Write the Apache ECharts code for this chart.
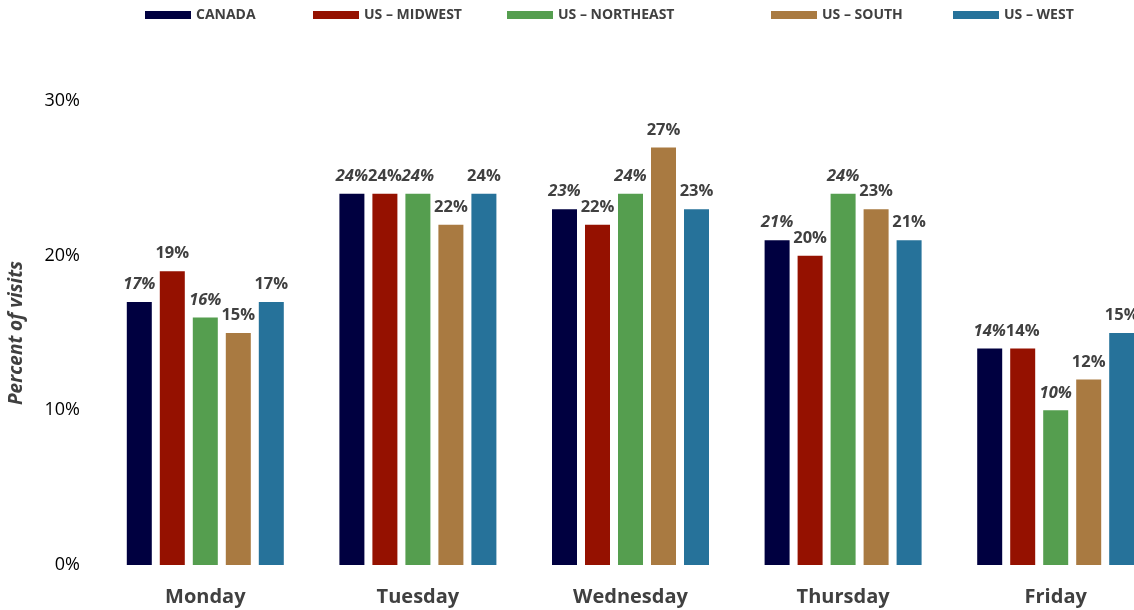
<!DOCTYPE html>
<html>
<head>
<meta charset="utf-8">
<script src="https://cdn.jsdelivr.net/npm/echarts@6/dist/echarts.min.js"></script>
<style>
  html, body { margin: 0; padding: 0; background: #fff; }
  #chart { width: 1134px; height: 610px; }
</style>
</head>
<body>
<div id="chart"></div>
<script>
// Weekday share of visits by region
const days = ['Monday', 'Tuesday', 'Wednesday', 'Thursday', 'Friday'];
const regions = ['CANADA', 'US \u2013 MIDWEST', 'US \u2013 NORTHEAST', 'US \u2013 SOUTH', 'US \u2013 WEST'];
const canada    = [17, 24, 23, 21, 14];
const midwest   = [19, 24, 22, 20, 14];
const northeast = [16, 24, 24, 24, 10];
const south     = [15, 22, 27, 23, 12];
const west      = [17, 24, 23, 21, 15];
const yTicks = [0, 10, 20, 30];

const seriesValues = [canada, midwest, northeast, south, west];
const colors = ['#000040', '#951100', '#559E4F', '#A97A41', '#26729A'];
const italicLabels = [true, false, true, false, false];
const legendLeft = [140, 308, 502, 766, 948];

const FONT = 'Open Sans';

const chart = echarts.init(document.getElementById('chart'));

const series = regions.map((name, i) => ({
  name: name,
  type: 'bar',
  data: seriesValues[i],
  barWidth: 25,
  barGap: '32%',
  itemStyle: { color: colors[i] },
  label: {
    show: true,
    position: 'top',
    distance: 9,
    formatter: '{c}%',
    fontFamily: FONT,
    fontWeight: 'bold',
    fontStyle: italicLabels[i] ? 'italic' : 'normal',
    fontSize: 16.5,
    color: '#404040'
  }
}));

const legends = regions.map((name, i) => ({
  data: [name],
  left: legendLeft[i],
  top: 3,
  icon: 'rect',
  itemWidth: 46,
  itemHeight: 8,
  itemGap: 0,
  selectedMode: false,
  textStyle: {
    fontFamily: FONT,
    fontWeight: 'bold',
    fontSize: 14,
    color: '#404040'
  }
}));

chart.setOption({
  animation: false,
  backgroundColor: '#ffffff',
  legend: legends,
  grid: { left: 99, width: 1063, top: 101, bottom: 45, outerBoundsMode: 'none' },
  xAxis: {
    type: 'category',
    data: days,
    axisLine: { show: false },
    axisTick: { show: false },
    axisLabel: {
      margin: 22,
      fontFamily: FONT,
      fontWeight: 'bold',
      fontSize: 20,
      color: '#404040'
    }
  },
  yAxis: {
    type: 'value',
    min: yTicks[0],
    max: yTicks[yTicks.length - 1],
    interval: yTicks[1] - yTicks[0],
    name: 'Percent of visits',
    nameLocation: 'middle',
    nameGap: 73,
    nameTextStyle: {
      fontFamily: FONT,
      fontWeight: 'bold',
      fontStyle: 'italic',
      fontSize: 19,
      color: '#404040'
    },
    splitLine: { show: false },
    axisLine: { show: false },
    axisTick: { show: false },
    axisLabel: {
      margin: 19,
      formatter: '{value}%',
      fontFamily: FONT,
      fontSize: 18,
      color: '#000000'
    }
  },
  series: series
});
</script>
</body>
</html>
